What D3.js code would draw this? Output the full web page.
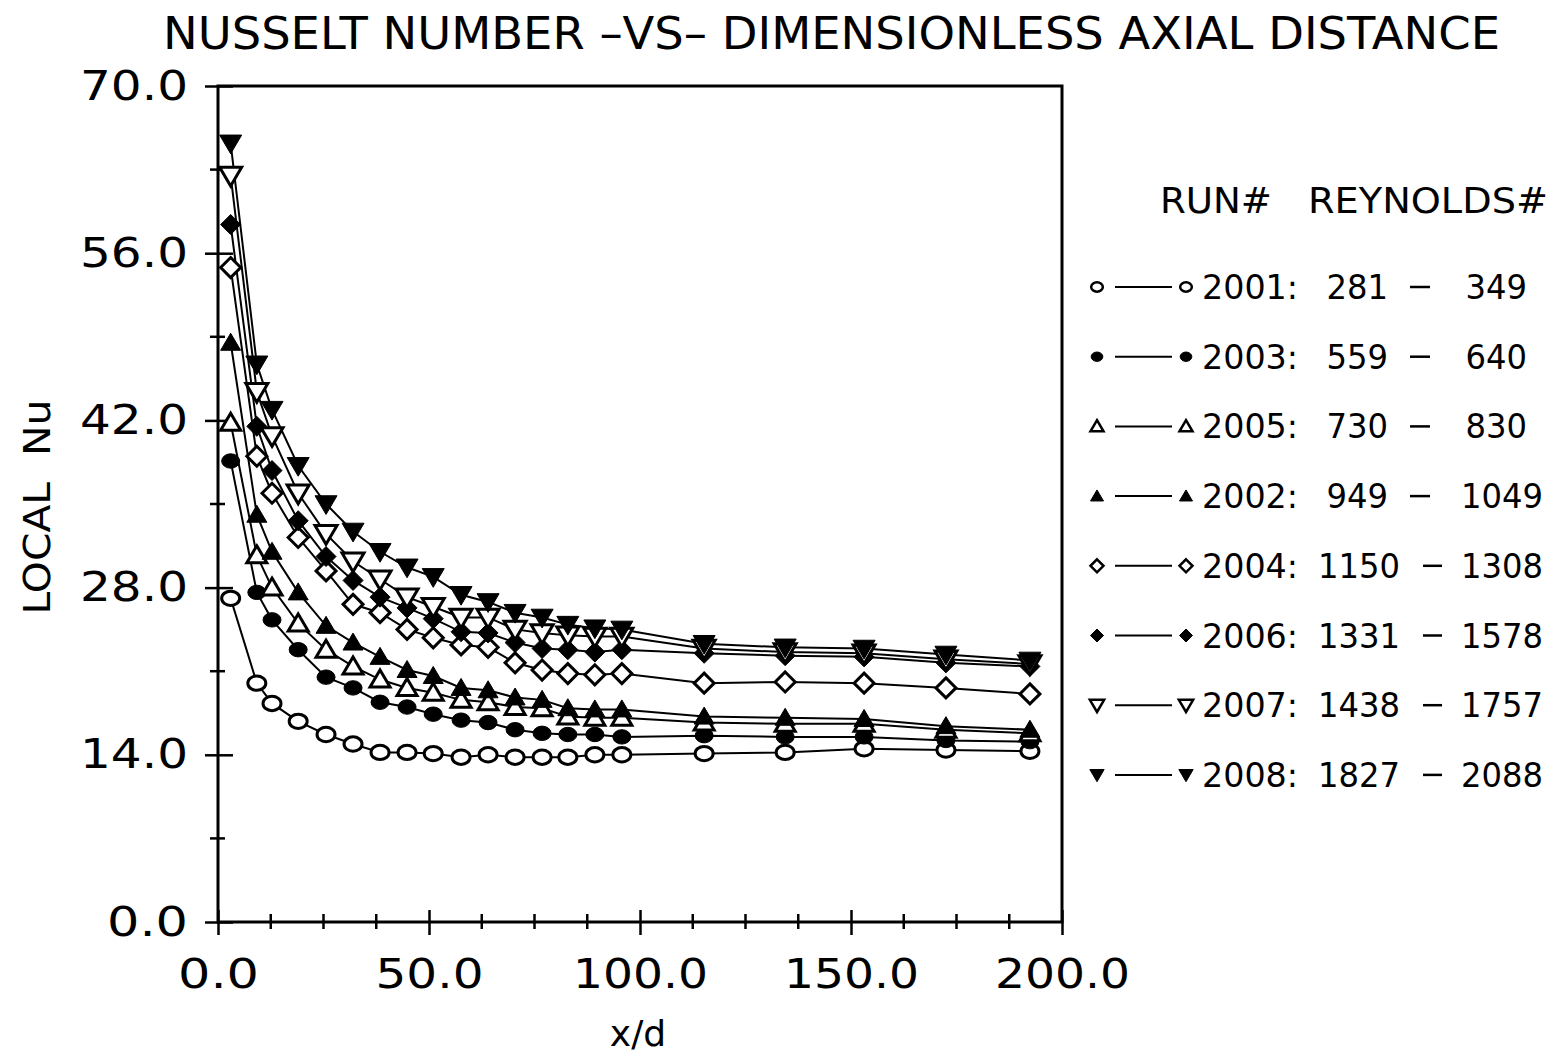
<!DOCTYPE html>
<html>
<head>
<meta charset="utf-8">
<script src="https://cdn.jsdelivr.net/npm/d3@7"></script>
<style>
  body { margin: 0; background: #fff; }
  text { font-family: "DejaVu Sans", sans-serif; fill: #000; }
</style>
</head>
<body>
<svg id="chart" width="1558" height="1059"></svg>
<script>
// x/d stations shared by every run
const xStations = [3, 9.2, 12.8, 19, 25.6, 32, 38.4, 44.8, 51, 57.6, 64, 70.4, 76.8, 82.9, 89.3, 95.7, 115.2, 134.4, 153.1, 172.5, 192.4];

// runs in legend order
const runs = ['2001', '2003', '2005', '2002', '2004', '2006', '2007', '2008'];
const reLow = [281, 559, 730, 949, 1150, 1331, 1438, 1827];
const reHigh = [349, 640, 830, 1049, 1308, 1578, 1757, 2088];

// local Nu for each run
const nu2001 = [27.1, 20.0, 18.3, 16.8, 15.7, 14.9, 14.2, 14.2, 14.1, 13.8, 14.0, 13.8, 13.8, 13.8, 14.0, 14.0, 14.1, 14.2, 14.5, 14.4, 14.3];
const nu2003 = [38.6, 27.6, 25.3, 22.8, 20.5, 19.6, 18.4, 18.0, 17.4, 16.9, 16.7, 16.1, 15.8, 15.7, 15.7, 15.5, 15.6, 15.5, 15.5, 15.2, 15.1];
const nu2005 = [41.8, 30.7, 28.0, 25.0, 22.8, 21.4, 20.3, 19.6, 19.2, 18.6, 18.4, 18.0, 17.9, 17.2, 17.1, 17.1, 16.7, 16.6, 16.6, 16.1, 15.8];
const nu2002 = [48.5, 34.1, 31.0, 27.6, 24.8, 23.4, 22.2, 21.1, 20.6, 19.6, 19.4, 18.8, 18.6, 17.9, 17.8, 17.8, 17.2, 17.1, 17.0, 16.4, 16.1];
const nu2004 = [54.8, 39.0, 35.9, 32.2, 29.4, 26.6, 25.9, 24.5, 23.8, 23.2, 23.0, 21.7, 21.1, 20.8, 20.7, 20.8, 20.0, 20.1, 20.0, 19.6, 19.1];
const nu2006 = [58.4, 41.5, 37.8, 33.6, 30.6, 28.6, 27.2, 26.3, 25.4, 24.3, 24.2, 23.4, 22.9, 22.8, 22.6, 22.8, 22.5, 22.3, 22.2, 21.7, 21.4];
const nu2007 = [62.5, 44.4, 40.7, 35.9, 32.5, 30.2, 28.7, 27.2, 26.4, 25.5, 25.5, 24.5, 24.2, 24.0, 23.9, 23.9, 22.9, 22.6, 22.5, 22.0, 21.6];
const nu2008 = [65.2, 46.7, 42.9, 38.2, 35.0, 32.7, 31.0, 29.7, 28.9, 27.4, 26.8, 25.9, 25.5, 24.9, 24.6, 24.5, 23.3, 23.0, 22.9, 22.4, 21.9];
const nuSeries = [nu2001, nu2003, nu2005, nu2002, nu2004, nu2006, nu2007, nu2008];

// axis ticks
const yTicks = [0, 14, 28, 42, 56, 70];
const yMinor = [7, 21, 35, 49, 63];
const xTicks = [0, 50, 100, 150, 200];
const xMinor = [12.5, 25, 37.5, 62.5, 75, 87.5, 112.5, 125, 137.5, 162.5, 175, 187.5];

// marker look per run (same order as runs)
const markerStyle = [
  { shape: 'circle', filled: false },
  { shape: 'circle', filled: true },
  { shape: 'up', filled: false },
  { shape: 'up', filled: true },
  { shape: 'diamond', filled: false },
  { shape: 'diamond', filled: true },
  { shape: 'down', filled: false },
  { shape: 'down', filled: true }
];

const svg = d3.select('#chart');
const x = d3.scaleLinear().domain([0, 200]).range([218, 1062]);
const y = d3.scaleLinear().domain([0, 70]).range([922, 86]);
const fmt = d3.format('.1f');

function markerPath(shape, r) {
  if (shape === 'circle') {
    const ry = r * 0.8;
    return `M${-r},0A${r},${ry} 0 1,0 ${r},0A${r},${ry} 0 1,0 ${-r},0Z`;
  }
  if (shape === 'up') return `M0,${-r * 0.95}L${r},${r * 0.75}L${-r},${r * 0.75}Z`;
  if (shape === 'down') return `M0,${r * 0.95}L${r},${-r * 0.75}L${-r},${-r * 0.75}Z`;
  return `M0,${-r}L${r},0L0,${r}L${-r},0Z`;
}
const markerR = { circle: 9, up: 10, down: 11, diamond: 10 };

// title
svg.append('text')
  .attr('x', 163).attr('y', 49)
  .attr('font-size', 44)
  .attr('textLength', 1337).attr('lengthAdjust', 'spacingAndGlyphs')
  .text('NUSSELT NUMBER \u2013VS\u2013 DIMENSIONLESS AXIAL DISTANCE');

// plot frame
svg.append('rect')
  .attr('x', x(0)).attr('y', y(70))
  .attr('width', x(200) - x(0)).attr('height', y(0) - y(70))
  .attr('fill', 'none').attr('stroke', '#000').attr('stroke-width', 3);

// y axis
const yAxis = svg.append('g')
  .attr('transform', `translate(${x(0)},0)`)
  .call(d3.axisLeft(y).tickValues(yTicks).tickFormat(fmt).tickSize(13).tickPadding(17));
yAxis.attr('font-size', 41).attr('font-family', null);
yAxis.select('.domain').remove();
yAxis.selectAll('.tick line').attr('x1', 15).attr('stroke-width', 2.5);
yAxis.selectAll('.tick text')
  .attr('font-size', 41)
  .attr('textLength', d => fmt(d).length * 27)
  .attr('lengthAdjust', 'spacingAndGlyphs');

svg.append('g').selectAll('line')
  .data(yMinor).join('line')
  .attr('x1', x(0) - 8).attr('x2', x(0) + 7)
  .attr('y1', d => y(d)).attr('y2', d => y(d))
  .attr('stroke', '#000').attr('stroke-width', 2.5);

// x axis
const xAxis = svg.append('g')
  .attr('transform', `translate(0,${y(0)})`)
  .call(d3.axisBottom(x).tickValues(xTicks).tickFormat(fmt).tickSize(13).tickPadding(24));
xAxis.attr('font-size', 41).attr('font-family', null);
xAxis.select('.domain').remove();
xAxis.selectAll('.tick line').attr('y1', -12).attr('stroke-width', 2.5);
xAxis.selectAll('.tick text')
  .attr('font-size', 41)
  .attr('textLength', d => fmt(d).length * 27)
  .attr('lengthAdjust', 'spacingAndGlyphs');

svg.append('g').selectAll('line')
  .data(xMinor).join('line')
  .attr('x1', d => x(d)).attr('x2', d => x(d))
  .attr('y1', y(0) - 8).attr('y2', y(0) + 7)
  .attr('stroke', '#000').attr('stroke-width', 2.5);

// axis titles
svg.append('text')
  .attr('transform', 'translate(50,507) rotate(-90)')
  .attr('text-anchor', 'middle')
  .attr('font-size', 38)
  .style('white-space', 'pre')
  .attr('textLength', 215).attr('lengthAdjust', 'spacingAndGlyphs')
  .text('LOCAL  Nu');

svg.append('text')
  .attr('x', 638).attr('y', 1046)
  .attr('text-anchor', 'middle')
  .attr('font-size', 36)
  .text('x/d');

// lines
const line = d3.line().x(d => x(d[0])).y(d => y(d[1]));
const plot = svg.append('g');
nuSeries.forEach(vals => {
  const pts = xStations.map((xs, i) => [xs, vals[i]]);
  plot.append('path')
    .attr('d', line(pts))
    .attr('fill', 'none').attr('stroke', '#000').attr('stroke-width', 2);
});

// markers
nuSeries.forEach((vals, k) => {
  const st = markerStyle[k];
  plot.append('g').selectAll('path')
    .data(xStations.map((xs, i) => [xs, vals[i]]))
    .join('path')
    .attr('transform', d => `translate(${x(d[0])},${y(d[1])})`)
    .attr('d', markerPath(st.shape, markerR[st.shape]))
    .attr('fill', st.filled ? '#000' : '#fff')
    .attr('stroke', '#000').attr('stroke-width', st.filled ? 1 : 3);
});

// legend
const legend = svg.append('g');
legend.append('text').attr('x', 1160).attr('y', 213).attr('font-size', 35)
  .attr('textLength', 112).attr('lengthAdjust', 'spacingAndGlyphs').text('RUN#');
legend.append('text').attr('x', 1308).attr('y', 213).attr('font-size', 35)
  .attr('textLength', 240).attr('lengthAdjust', 'spacingAndGlyphs').text('REYNOLDS#');

runs.forEach((run, i) => {
  const cy = 287 + i * 69.7;
  const st = markerStyle[i];
  const row = legend.append('g');
  const r = markerR[st.shape] * 0.65;
  [1097, 1186].forEach(mx => {
    row.append('path')
      .attr('transform', `translate(${mx},${cy})`)
      .attr('d', markerPath(st.shape, r))
      .attr('fill', st.filled ? '#000' : '#fff')
      .attr('stroke', '#000').attr('stroke-width', st.filled ? 1 : 2.5);
  });
  row.append('line')
    .attr('x1', 1115).attr('x2', 1172).attr('y1', cy).attr('y2', cy)
    .attr('stroke', '#000').attr('stroke-width', 2);

  const base = cy + 12;
  const lo = String(reLow[i]), hi = String(reHigh[i]);
  row.append('text').attr('x', 1202).attr('y', base).attr('font-size', 33)
    .attr('textLength', 96).attr('lengthAdjust', 'spacingAndGlyphs').text(run + ':');
  row.append('text').attr('x', lo.length > 3 ? 1400 : 1388).attr('y', base).attr('font-size', 33)
    .attr('text-anchor', 'end')
    .attr('textLength', lo.length * 20.5).attr('lengthAdjust', 'spacingAndGlyphs').text(lo);
  row.append('line')
    .attr('x1', lo.length > 3 ? 1423 : 1410).attr('x2', lo.length > 3 ? 1442 : 1430)
    .attr('y1', cy).attr('y2', cy)
    .attr('stroke', '#000').attr('stroke-width', 2.5);
  row.append('text').attr('x', hi.length > 3 ? 1543 : 1527).attr('y', base).attr('font-size', 33)
    .attr('text-anchor', 'end')
    .attr('textLength', hi.length * 20.5).attr('lengthAdjust', 'spacingAndGlyphs').text(hi);
});
</script>
</body>
</html>
